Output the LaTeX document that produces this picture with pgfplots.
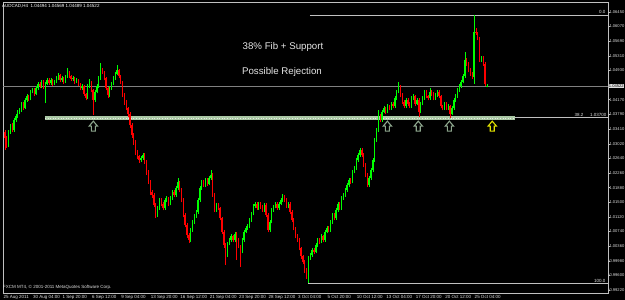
\documentclass[border=0pt]{standalone}
\usepackage{pgfplots}
\pgfplotsset{compat=1.18}
\usepackage{pgfplotstable}
\usepackage{fontspec}
\setmainfont{Liberation Sans}
\definecolor{bull}{RGB}{0,255,0}
\definecolor{bear}{RGB}{255,0,0}
\definecolor{axgray}{RGB}{192,192,192}
\definecolor{bidgray}{RGB}{128,128,128}
\definecolor{bandc}{RGB}{170,200,165}
\definecolor{arrowc}{RGB}{140,165,140}
\definecolor{arrowy}{RGB}{225,225,0}
\tikzset{pics/uparr/.style={code={\draw[line width=1.1pt, draw=#1, fill=black] (-2pt,0pt) -- (2pt,0pt) -- (2pt,5pt) -- (4.2pt,5pt) -- (0pt,10pt) -- (-4.2pt,5pt) -- (-2pt,5pt) -- cycle;}}}

\pgfplotstableread{
b o h l c
1 1.0333 1.0338 1.0286 1.0317
2 1.0317 1.0322 1.0292 1.0299
3 1.0299 1.0337 1.0295 1.0333
4 1.0333 1.0353 1.0328 1.0348
5 1.0348 1.0355 1.0332 1.0338
6 1.0338 1.0368 1.0334 1.0364
7 1.0364 1.0380 1.0360 1.0374
8 1.0374 1.0389 1.0369 1.0385
9 1.0385 1.0396 1.0380 1.0390
10 1.0390 1.0410 1.0386 1.0406
11 1.0406 1.0412 1.0390 1.0395
12 1.0395 1.0420 1.0392 1.0416
13 1.0416 1.0431 1.0412 1.0426
14 1.0426 1.0430 1.0413 1.0419
15 1.0419 1.0442 1.0415 1.0437
16 1.0437 1.0448 1.0433 1.0442
17 1.0442 1.0446 1.0426 1.0432
18 1.0432 1.0452 1.0428 1.0447
19 1.0447 1.0463 1.0443 1.0458
20 1.0458 1.0462 1.0446 1.0452
21 1.0452 1.0469 1.0448 1.0463
22 1.0463 1.0467 1.0444 1.0450
23 1.0450 1.0462 1.0408 1.0458
24 1.0458 1.0473 1.0454 1.0468
25 1.0468 1.0472 1.0455 1.0460
26 1.0460 1.0474 1.0456 1.0468
27 1.0468 1.0471 1.0452 1.0458
28 1.0458 1.0468 1.0454 1.0463
29 1.0463 1.0478 1.0459 1.0473
30 1.0473 1.0486 1.0469 1.0481
31 1.0481 1.0484 1.0462 1.0468
32 1.0468 1.0479 1.0464 1.0473
33 1.0473 1.0476 1.0457 1.0463
34 1.0463 1.0482 1.0459 1.0478
35 1.0478 1.0499 1.0474 1.0489
36 1.0489 1.0492 1.0472 1.0478
37 1.0478 1.0482 1.0465 1.0471
38 1.0471 1.0479 1.0466 1.0473
39 1.0473 1.0476 1.0458 1.0463
40 1.0463 1.0473 1.0459 1.0468
41 1.0468 1.0471 1.0452 1.0458
42 1.0458 1.0461 1.0441 1.0447
43 1.0447 1.0458 1.0443 1.0452
44 1.0452 1.0455 1.0426 1.0432
45 1.0432 1.0435 1.0415 1.0421
46 1.0421 1.0457 1.0418 1.0452
47 1.0452 1.0470 1.0448 1.0463
48 1.0463 1.0466 1.0436 1.0442
49 1.0442 1.0445 1.0377 1.0416
50 1.0416 1.0441 1.0411 1.0437
51 1.0437 1.0458 1.0433 1.0452
52 1.0452 1.0478 1.0448 1.0473
53 1.0473 1.0512 1.0469 1.0494
54 1.0494 1.0500 1.0483 1.0489
55 1.0489 1.0492 1.0467 1.0473
56 1.0473 1.0476 1.0441 1.0447
57 1.0447 1.0450 1.0422 1.0429
58 1.0429 1.0452 1.0425 1.0447
59 1.0447 1.0463 1.0443 1.0458
60 1.0458 1.0478 1.0454 1.0473
61 1.0473 1.0490 1.0469 1.0484
62 1.0484 1.0507 1.0480 1.0494
63 1.0494 1.0497 1.0473 1.0478
64 1.0478 1.0481 1.0457 1.0463
65 1.0463 1.0466 1.0423 1.0429
66 1.0429 1.0433 1.0404 1.0411
67 1.0411 1.0415 1.0389 1.0395
68 1.0395 1.0399 1.0372 1.0380
69 1.0380 1.0384 1.0344 1.0351
70 1.0351 1.0355 1.0318 1.0325
71 1.0325 1.0330 1.0300 1.0307
72 1.0307 1.0311 1.0274 1.0281
73 1.0281 1.0286 1.0263 1.0270
74 1.0270 1.0274 1.0253 1.0260
75 1.0260 1.0271 1.0256 1.0265
76 1.0265 1.0279 1.0260 1.0273
77 1.0273 1.0277 1.0249 1.0255
78 1.0255 1.0259 1.0222 1.0229
79 1.0229 1.0233 1.0197 1.0203
80 1.0203 1.0207 1.0170 1.0177
81 1.0177 1.0182 1.0162 1.0169
82 1.0169 1.0173 1.0137 1.0143
83 1.0143 1.0147 1.0110 1.0117
84 1.0117 1.0140 1.0112 1.0135
85 1.0135 1.0161 1.0131 1.0156
86 1.0156 1.0160 1.0140 1.0146
87 1.0146 1.0150 1.0129 1.0135
88 1.0135 1.0162 1.0131 1.0156
89 1.0156 1.0166 1.0151 1.0161
90 1.0161 1.0165 1.0141 1.0146
91 1.0146 1.0166 1.0142 1.0161
92 1.0161 1.0182 1.0157 1.0177
93 1.0177 1.0181 1.0163 1.0169
94 1.0169 1.0192 1.0165 1.0187
95 1.0187 1.0213 1.0183 1.0203
96 1.0203 1.0206 1.0176 1.0182
97 1.0182 1.0186 1.0150 1.0156
98 1.0156 1.0160 1.0111 1.0117
99 1.0117 1.0121 1.0085 1.0091
100 1.0091 1.0095 1.0058 1.0065
101 1.0065 1.0070 1.0044 1.0052
102 1.0052 1.0083 1.0048 1.0078
103 1.0078 1.0104 1.0073 1.0099
104 1.0099 1.0119 1.0094 1.0114
105 1.0114 1.0131 1.0110 1.0125
106 1.0125 1.0161 1.0120 1.0156
107 1.0156 1.0192 1.0152 1.0187
108 1.0187 1.0209 1.0183 1.0203
109 1.0203 1.0207 1.0190 1.0195
110 1.0195 1.0213 1.0191 1.0208
111 1.0208 1.0212 1.0193 1.0198
112 1.0198 1.0218 1.0194 1.0213
113 1.0213 1.0234 1.0209 1.0221
114 1.0221 1.0225 1.0164 1.0169
115 1.0169 1.0173 1.0124 1.0130
116 1.0130 1.0148 1.0126 1.0143
117 1.0143 1.0147 1.0130 1.0135
118 1.0135 1.0139 1.0103 1.0109
119 1.0109 1.0113 1.0067 1.0073
120 1.0073 1.0077 1.0032 1.0039
121 1.0039 1.0043 0.9987 1.0013
122 1.0013 1.0047 1.0009 1.0042
123 1.0042 1.0057 1.0038 1.0052
124 1.0052 1.0067 1.0048 1.0062
125 1.0062 1.0066 1.0046 1.0052
126 1.0052 1.0073 1.0048 1.0068
127 1.0068 1.0072 1.0000 1.0052
128 1.0052 1.0056 1.0030 1.0036
129 1.0036 1.0040 0.9982 1.0021
130 1.0021 1.0057 1.0017 1.0052
131 1.0052 1.0078 1.0048 1.0073
132 1.0073 1.0088 1.0069 1.0083
133 1.0083 1.0094 1.0079 1.0088
134 1.0088 1.0109 1.0084 1.0104
135 1.0104 1.0125 1.0100 1.0120
136 1.0120 1.0146 1.0116 1.0140
137 1.0140 1.0152 1.0136 1.0146
138 1.0146 1.0150 1.0130 1.0135
139 1.0135 1.0151 1.0131 1.0146
140 1.0146 1.0150 1.0133 1.0138
141 1.0138 1.0142 1.0125 1.0130
142 1.0130 1.0148 1.0126 1.0143
143 1.0143 1.0147 1.0111 1.0117
144 1.0117 1.0121 1.0072 1.0078
145 1.0078 1.0104 1.0074 1.0099
146 1.0099 1.0135 1.0095 1.0130
147 1.0130 1.0143 1.0126 1.0138
148 1.0138 1.0152 1.0134 1.0146
149 1.0146 1.0150 1.0130 1.0135
150 1.0135 1.0151 1.0131 1.0146
151 1.0146 1.0161 1.0142 1.0156
152 1.0156 1.0172 1.0152 1.0166
153 1.0166 1.0170 1.0150 1.0156
154 1.0156 1.0160 1.0134 1.0140
155 1.0140 1.0151 1.0136 1.0146
156 1.0146 1.0150 1.0119 1.0125
157 1.0125 1.0129 1.0098 1.0104
158 1.0104 1.0108 1.0077 1.0083
159 1.0083 1.0087 1.0056 1.0062
160 1.0062 1.0067 1.0046 1.0052
161 1.0052 1.0056 1.0025 1.0031
162 1.0031 1.0035 1.0003 1.0010
163 1.0010 1.0014 0.9989 0.9995
164 0.9995 0.9999 0.9967 0.9974
165 0.9974 0.9978 0.9950 0.9958
166 0.9958 1.0010 0.9940 1.0005
167 1.0005 1.0019 1.0000 1.0013
168 1.0013 1.0031 1.0009 1.0026
169 1.0026 1.0031 1.0015 1.0021
170 1.0021 1.0044 1.0017 1.0039
171 1.0039 1.0057 1.0035 1.0052
172 1.0052 1.0058 1.0041 1.0047
173 1.0047 1.0067 1.0043 1.0062
174 1.0062 1.0066 1.0046 1.0052
175 1.0052 1.0078 1.0048 1.0073
176 1.0073 1.0089 1.0069 1.0083
177 1.0083 1.0088 1.0072 1.0078
178 1.0078 1.0104 1.0074 1.0099
179 1.0099 1.0122 1.0094 1.0117
180 1.0117 1.0121 1.0103 1.0109
181 1.0109 1.0135 1.0105 1.0130
182 1.0130 1.0151 1.0126 1.0146
183 1.0146 1.0150 1.0129 1.0135
184 1.0135 1.0166 1.0131 1.0161
185 1.0161 1.0175 1.0157 1.0169
186 1.0169 1.0187 1.0165 1.0182
187 1.0182 1.0200 1.0178 1.0195
188 1.0195 1.0214 1.0191 1.0208
189 1.0208 1.0213 1.0197 1.0203
190 1.0203 1.0234 1.0199 1.0229
191 1.0229 1.0245 1.0225 1.0239
192 1.0239 1.0265 1.0235 1.0260
193 1.0260 1.0278 1.0256 1.0273
194 1.0273 1.0292 1.0269 1.0286
195 1.0286 1.0290 1.0268 1.0273
196 1.0273 1.0277 1.0241 1.0247
197 1.0247 1.0251 1.0215 1.0221
198 1.0221 1.0225 1.0189 1.0195
199 1.0195 1.0218 1.0191 1.0213
200 1.0213 1.0239 1.0209 1.0234
201 1.0234 1.0265 1.0230 1.0260
202 1.0260 1.0317 1.0256 1.0312
203 1.0312 1.0344 1.0308 1.0338
204 1.0338 1.0390 1.0334 1.0369
205 1.0369 1.0380 1.0358 1.0364
206 1.0364 1.0390 1.0360 1.0385
207 1.0385 1.0400 1.0381 1.0395
208 1.0395 1.0399 1.0379 1.0385
209 1.0385 1.0405 1.0381 1.0400
210 1.0400 1.0404 1.0389 1.0395
211 1.0395 1.0411 1.0391 1.0406
212 1.0406 1.0410 1.0394 1.0400
213 1.0400 1.0426 1.0396 1.0421
214 1.0421 1.0442 1.0417 1.0437
215 1.0437 1.0463 1.0433 1.0452
216 1.0452 1.0456 1.0423 1.0429
217 1.0429 1.0433 1.0405 1.0411
218 1.0411 1.0415 1.0394 1.0400
219 1.0400 1.0421 1.0396 1.0416
220 1.0416 1.0420 1.0400 1.0406
221 1.0406 1.0410 1.0394 1.0400
222 1.0400 1.0426 1.0396 1.0421
223 1.0421 1.0432 1.0417 1.0426
224 1.0426 1.0430 1.0400 1.0406
225 1.0406 1.0421 1.0402 1.0416
226 1.0416 1.0420 1.0372 1.0385
227 1.0385 1.0411 1.0381 1.0406
228 1.0406 1.0426 1.0402 1.0421
229 1.0421 1.0442 1.0417 1.0437
230 1.0437 1.0441 1.0420 1.0426
231 1.0426 1.0430 1.0415 1.0421
232 1.0421 1.0447 1.0417 1.0437
233 1.0437 1.0442 1.0426 1.0432
234 1.0432 1.0436 1.0415 1.0421
235 1.0421 1.0434 1.0417 1.0429
236 1.0429 1.0443 1.0425 1.0437
237 1.0437 1.0441 1.0420 1.0426
238 1.0426 1.0430 1.0394 1.0400
239 1.0400 1.0404 1.0389 1.0395
240 1.0395 1.0411 1.0391 1.0406
241 1.0406 1.0410 1.0390 1.0395
242 1.0395 1.0405 1.0391 1.0400
243 1.0400 1.0404 1.0369 1.0380
244 1.0380 1.0400 1.0376 1.0395
245 1.0395 1.0421 1.0391 1.0416
246 1.0416 1.0431 1.0412 1.0426
247 1.0426 1.0447 1.0422 1.0442
248 1.0442 1.0458 1.0438 1.0452
249 1.0452 1.0468 1.0448 1.0463
250 1.0463 1.0484 1.0459 1.0478
251 1.0478 1.0541 1.0474 1.0520
252 1.0520 1.0524 1.0504 1.0510
253 1.0510 1.0514 1.0488 1.0494
254 1.0494 1.0498 1.0479 1.0484
255 1.0484 1.0489 1.0470 1.0476
256 1.0476 1.0637 1.0458 1.0593
257 1.0593 1.0603 1.0585 1.0590
258 1.0590 1.0594 1.0571 1.0577
259 1.0577 1.0581 1.0514 1.0520
260 1.0520 1.0531 1.0515 1.0525
261 1.0525 1.0530 1.0504 1.0510
262 1.0510 1.0514 1.0452 1.0458
263 1.04494 1.04569 1.04489 1.04522
}\candles

\begin{document}
\begin{tikzpicture}[font=\fontsize{4.5}{5}\selectfont]
\path[fill=black, use as bounding box] (0,0) rectangle (625pt,300pt);
\begin{axis}[
  at={(3pt,7pt)}, anchor=south west,
  width=605pt, height=291pt, scale only axis,
  xmin=0, xmax=328.8, ymin=0.99142, ymax=1.06708,
  axis line style={draw=axgray, line width=0.6pt},
  tick align=outside, major tick length=1.5pt,
  tick style={draw=axgray, line width=0.5pt},
  xtick={0,16,32,48,64,80,96,112,128,144,160,176,192,208,224,240,256},
  xticklabels={25 Aug 2011,30 Aug 04:00,1 Sep 20:00,6 Sep 12:00,9 Sep 04:00,13 Sep 20:00,16 Sep 12:00,21 Sep 04:00,23 Sep 20:00,28 Sep 12:00,3 Oct 04:00,5 Oct 20:00,10 Oct 12:00,13 Oct 04:00,17 Oct 20:00,20 Oct 12:00,25 Oct 04:00},
  xtick pos=bottom,
  xticklabel style={anchor=north west, inner sep=0.5pt, text=white!88!black, font=\fontsize{4.5}{5}\selectfont},
  ytick={1.0645,1.0607,1.0569,1.0531,1.0493,1.0417,1.0379,1.0341,1.0302,1.0264,1.0226,1.0188,1.0150,1.0112,1.0074,1.0036,0.9998,0.9960,0.9922},
  yticklabels={1.06450,1.06070,1.05690,1.05310,1.04930,1.04170,1.03790,1.03410,1.03020,1.02640,1.02260,1.01880,1.01500,1.01120,1.00740,1.00360,0.99980,0.99600,0.99220},
  ytick pos=right, yticklabel pos=right,
  yticklabel style={anchor=west, inner sep=0.3pt, xshift=-0.5pt, text=white!88!black, font=\fontsize{4.1}{5}\selectfont},
]
% bid line
\addplot[bidgray, line width=0.5pt, forget plot] coordinates {(0,1.04522) (328.8,1.04522)};
% fibonacci levels
\addplot[axgray, line width=0.6pt, forget plot] coordinates {(166.8,1.0637) (328.8,1.0637)};
\addplot[axgray, line width=0.6pt, forget plot] coordinates {(166.0,0.9940) (328.8,0.9940)};
\addplot[axgray, line width=0.6pt, forget plot] coordinates {(166.0,1.0370) (328.8,1.0370)};
% support band
\addplot[bandc, line width=3.6pt, forget plot] coordinates {(22.8,1.0369) (278.3,1.0369)};
\addplot[white!70!bandc, line width=0.6pt, dotted, forget plot] coordinates {(22.8,1.0369) (278.3,1.0369)};
% wicks
\addplot[draw=none, mark=none, forget plot,
  restrict expr to domain={\thisrow{c}-\thisrow{o}}{0:1},
  error bars/.cd, y dir=plus, y explicit, error mark=none,
  error bar style={draw=bull, line width=0.6pt}]
  table[x=b, y=l, y error plus expr=\thisrow{h}-\thisrow{l}] {\candles};
\addplot[draw=none, mark=none, forget plot,
  restrict expr to domain={\thisrow{c}-\thisrow{o}}{-1:-0.000001},
  error bars/.cd, y dir=plus, y explicit, error mark=none,
  error bar style={draw=bear, line width=0.6pt}]
  table[x=b, y=l, y error plus expr=\thisrow{h}-\thisrow{l}] {\candles};
% bodies
\addplot[draw=none, mark=none, forget plot,
  restrict expr to domain={\thisrow{c}-\thisrow{o}}{0:1},
  error bars/.cd, y dir=plus, y explicit, error mark=none,
  error bar style={draw=bull, line width=1.4pt}]
  table[x=b, y=o, y error plus expr=\thisrow{c}-\thisrow{o}] {\candles};
\addplot[draw=none, mark=none, forget plot,
  restrict expr to domain={\thisrow{c}-\thisrow{o}}{-1:-0.000001},
  error bars/.cd, y dir=plus, y explicit, error mark=none,
  error bar style={draw=bear, line width=1.4pt}]
  table[x=b, y=c, y error plus expr=\thisrow{o}-\thisrow{c}] {\candles};
% arrows
\pic at (axis cs:49.1,1.0335) {uparr=arrowc};
\pic at (axis cs:208.9,1.0335) {uparr=arrowc};
\pic at (axis cs:225.7,1.0335) {uparr=arrowc};
\pic at (axis cs:242.6,1.0335) {uparr=arrowc};
\pic at (axis cs:265.9,1.0335) {uparr=arrowy};
\end{axis}
% texts
\node[anchor=west, inner sep=0pt, text=white] at (2pt,294pt) {AUDCAD,H4\ \ 1.04494 1.04569 1.04489 1.04522};
\node[anchor=west, inner sep=0pt, text=white!88!black] at (3pt,13pt) {FXCM MT4, © 2001-2011 MetaQuotes Software Corp.};
\node[text=white!90!black, font=\fontsize{9.7}{11}\selectfont] at (283pt,253pt) {38\% Fib + Support};
\node[text=white!90!black, font=\fontsize{9.7}{11}\selectfont] at (282pt,228pt) {Possible Rejection};
\node[anchor=south east, inner sep=0.5pt, text=white!88!black] at (606pt,285.3pt) {0.0};
\node[anchor=south east, inner sep=0.5pt, text=white!88!black] at (606pt,16.3pt) {100.0};
\node[anchor=south west, inner sep=0.5pt, text=white!88!black] at (574pt,182.3pt) {38.2};
\node[anchor=south east, inner sep=0.5pt, text=white!88!black] at (607pt,182.3pt) {1.03700};
\node[anchor=west, fill=white!88!black, text=black, inner sep=0.4pt, font=\fontsize{4.1}{5}\selectfont] at (608.3pt,214pt) {1.04522};
\end{tikzpicture}
\end{document}
